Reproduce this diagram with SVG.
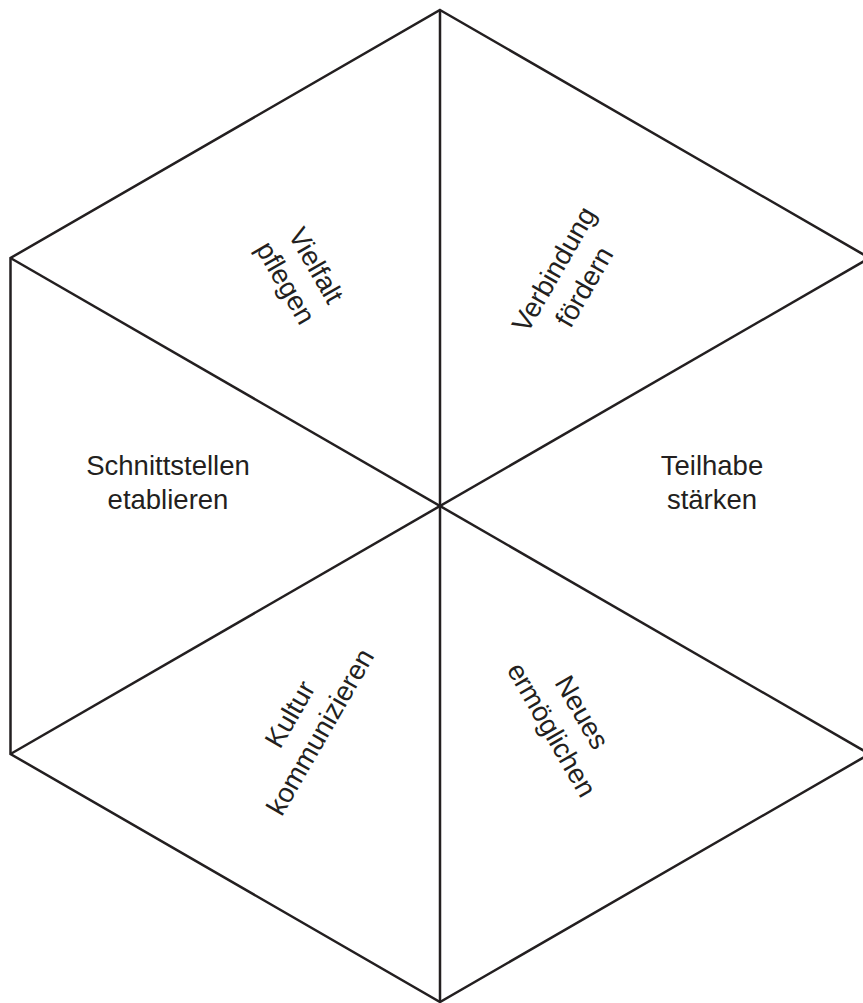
<svg xmlns="http://www.w3.org/2000/svg" width="863" height="1003" viewBox="0 0 863 1003">
<style>
.edge{fill:none;stroke:#231f20;stroke-width:2.5;stroke-linejoin:miter}
.lbl{font-family:"Liberation Sans",Arial,sans-serif;font-size:27.5px;fill:#231f20;text-anchor:middle}
</style>
<rect width="863" height="1003" fill="#ffffff"/>
<g id="connectors">
<polygon class="edge" points="440,10 869.5,258 869.5,754 440,1002 10.5,754 10.5,258"/>
<line class="edge" x1="440" y1="10" x2="440" y2="1002"/>
<line class="edge" x1="10.5" y1="258" x2="869.5" y2="754"/>
<line class="edge" x1="869.5" y1="258" x2="10.5" y2="754"/>
</g>
<g id="vielfalt" transform="translate(301,274) rotate(60)">
<text class="lbl" x="0" y="-8">Vielfalt</text>
<text class="lbl" x="0" y="27">pflegen</text>
</g>
<g id="verbindung" transform="translate(569,278) rotate(-60)">
<text class="lbl" x="0" y="-8">Verbindung</text>
<text class="lbl" x="0" y="27">fördern</text>
</g>
<g id="schnittstellen">
<text class="lbl" x="168" y="475">Schnittstellen</text>
<text class="lbl" x="168" y="509">etablieren</text>
</g>
<g id="teilhabe">
<text class="lbl" x="712" y="475">Teilhabe</text>
<text class="lbl" x="712" y="509">stärken</text>
</g>
<g id="kultur" transform="translate(305,723) rotate(-60)">
<text class="lbl" x="0" y="-8">Kultur</text>
<text class="lbl" x="0" y="27">kommunizieren</text>
</g>
<g id="neues" transform="translate(567,721) rotate(60)">
<text class="lbl" x="0" y="-8">Neues</text>
<text class="lbl" x="0" y="27">ermöglichen</text>
</g>
</svg>
